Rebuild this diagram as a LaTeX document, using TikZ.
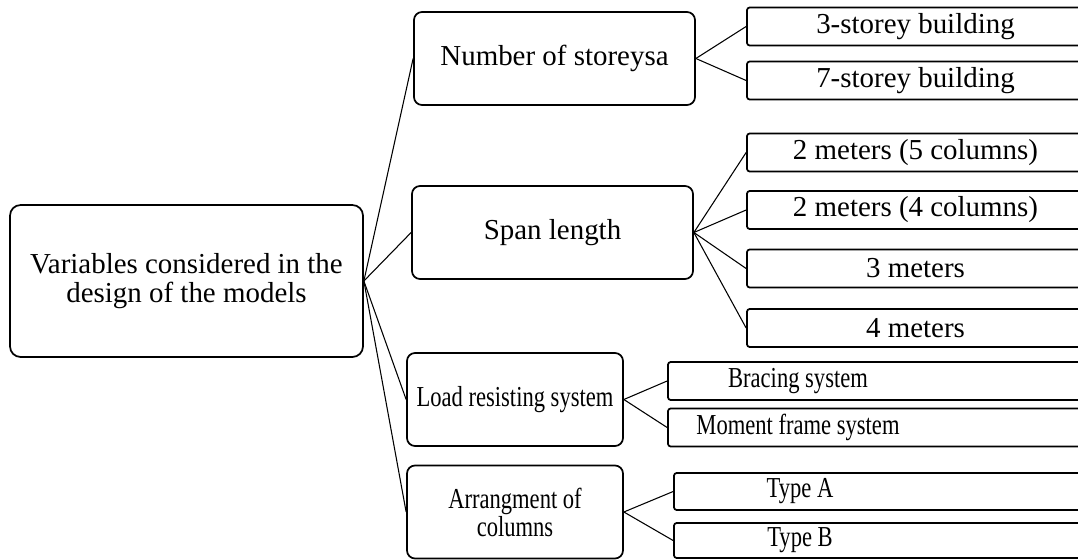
\documentclass[tikz,border=0pt]{standalone}
\usepackage{fontspec}
\setmainfont{Liberation Serif}
\newfontfamily\narrowfont[FakeStretch=0.78]{Liberation Serif}
\usepackage{tikz}

\newcommand{\bigtext}{\fontsize{21.7}{22}\selectfont}
\newcommand{\smalltext}{\narrowfont\fontsize{21.7}{21}\selectfont}

\begin{document}
\begin{tikzpicture}[x=0.75pt,y=-0.75pt,
    main node/.style={rectangle,draw,line width=1.3pt,rounded corners=6pt,
      font=\bigtext,align=center,inner sep=2pt,
      minimum width=210.75pt,minimum height=69.75pt},
    low node/.style={main node,font=\smalltext,minimum width=162pt},
    leaf node/.style={rectangle,draw,line width=1.3pt,rounded corners=2pt,
      font=\bigtext,inner sep=1pt,minimum width=252.75pt,minimum height=28.5pt},
    low leaf/.style={leaf node,font=\smalltext,minimum width=315pt}]
    \useasboundingbox (0,0) rectangle (1078,560);

    \node[main node,rounded corners=8pt,minimum width=264.75pt,minimum height=114pt] (root) at (186.5,281)
      {Variables considered in the\\design of the models};

    \node[main node] (storeys) at (554.5,58.5) {Number of storeysa};
    \node[main node] (span) at (552.5,232.5) {Span length};
    \node[low node] (load) at (515,399.5) {Load resisting system};
    \node[low node] (arrange) at (515,512) {Arrangment of\\columns};

    \node[leaf node] (st3) at (915.5,26.5) {3-storey building};
    \node[leaf node] (st7) at (915.5,80.5) {7-storey building};

    \node[leaf node] (sp2a) at (915.5,152.5) {2 meters (5 columns)};
    \node[leaf node] (sp2b) at (915.5,210) {2 meters (4 columns)};
    \node[leaf node] (sp3) at (915.5,268.5) {3 meters};
    \node[leaf node] (sp4) at (915.5,328) {4 meters};

    \node[low leaf,label={[font=\smalltext,xshift=-60pt,name=bracetxt]center:Bracing system}] (brace) at (878,381) {};
    \node[low leaf,label={[font=\smalltext,xshift=-60pt,name=momenttxt]center:Moment frame system}] (moment) at (878,427.5) {};
    \node[low leaf,minimum height=27.75pt,label={[font=\smalltext,xshift=-63pt,name=typeatxt]center:Type A}] (typea) at (884,491.5) {};
    \node[low leaf,minimum height=26.25pt,label={[font=\smalltext,xshift=-63pt,name=typebtxt]center:Type B}] (typeb) at (884,540.5) {};

    \path[every edge/.style={draw,line width=0.8pt}]
    (root.east) edge (storeys.west)
    (root.east) edge (span.west)
    (root.east) edge (load.west)
    (root.east) edge (arrange.west)
    (storeys.east) edge (st3.west)
    (storeys.east) edge (st7.west)
    (span.east) edge (sp2a.west)
    (span.east) edge (sp2b.west)
    (span.east) edge (sp3.west)
    (span.east) edge (sp4.west)
    (load.east) edge (brace.west)
    (load.east) edge (moment.west)
    (arrange.east) edge (typea.west)
    (arrange.east) edge (typeb.west)
    ;
\end{tikzpicture}
\end{document}
